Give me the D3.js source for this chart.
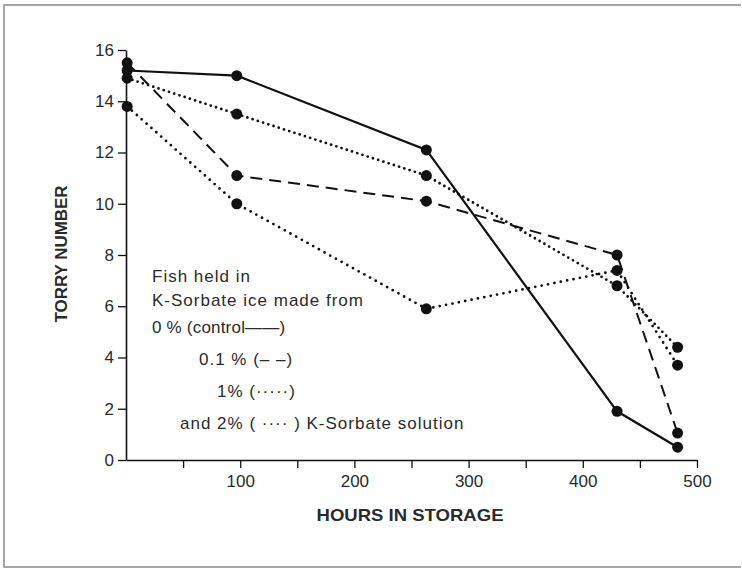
<!DOCTYPE html>
<html>
<head>
<meta charset="utf-8">
<script src="https://cdn.jsdelivr.net/npm/d3@7"></script>
<style>
  body { margin: 0; background: #fff; }
  text { font-family: "Liberation Sans", Arial, sans-serif; fill: #2a2a2a; }
</style>
</head>
<body>
<div id="graph"></div>
<script>
// data
const hours = [1, 97, 263, 430, 483];
const control = [15.2, 15.0, 12.1, 1.9, 0.5];
const pct01 = [15.5, 11.1, 10.1, 8.0, 1.05];
const pct1 = [14.9, 13.5, 11.1, 6.8, 4.4];
const pct2 = [13.8, 10.0, 5.9, 7.4, 3.7];
const xTicks = [100, 200, 300, 400, 500];
const xMinor = [50, 150, 250, 350, 450];
const yTicks = [0, 2, 4, 6, 8, 10, 12, 14, 16];

const series = [
  { name: "control", values: control, dash: null, width: 2.2, cap: "butt" },
  { name: "0.1", values: pct01, dash: "12,7", width: 2, cap: "butt" },
  { name: "1", values: pct1, dash: "0,5.5", width: 2.8, cap: "round" },
  { name: "2", values: pct2, dash: "0,6.5", width: 2.8, cap: "round" }
];

const svgWidth = 742, svgHeight = 569;
const svg = d3.select("#graph").append("svg")
  .attr("width", svgWidth).attr("height", svgHeight);

// frame
svg.append("path")
  .attr("d", "M741,5 H4 V567 H741")
  .attr("fill", "none").attr("stroke", "#888").attr("stroke-width", 1.5);

const x = d3.scaleLinear().domain([0, 500]).range([126, 697]);
const y = d3.scaleLinear().domain([0, 16]).range([460, 50]);

// x axis
const gx = svg.append("g").attr("transform", "translate(0,460)");
gx.call(d3.axisBottom(x).tickValues(xTicks).tickSize(8).tickSizeOuter(0).tickPadding(7));
gx.append("g").call(d3.axisBottom(x).tickValues(xMinor).tickSize(8).tickFormat(""))
  .select(".domain").remove();
gx.selectAll(".domain").attr("stroke", "#111").attr("stroke-width", 1.6);
gx.selectAll(".tick line").attr("stroke", "#111").attr("stroke-width", 1.3);
gx.selectAll(".tick text").style("font-size", "17px").attr("fill", "#2a2a2a")
  .style("font-family", "Liberation Sans, Arial, sans-serif");

// y axis
const gy = svg.append("g").attr("transform", "translate(126,0)");
gy.call(d3.axisLeft(y).tickValues(yTicks).tickSize(8).tickSizeOuter(0).tickPadding(4));
gy.selectAll(".domain").attr("stroke", "#111").attr("stroke-width", 1.6);
gy.selectAll(".tick line").attr("stroke", "#111").attr("stroke-width", 1.3);
gy.selectAll(".tick text").style("font-size", "17px").attr("fill", "#2a2a2a")
  .style("font-family", "Liberation Sans, Arial, sans-serif");

// axis titles
svg.append("text")
  .attr("x", 410).attr("y", 521).attr("text-anchor", "middle")
  .attr("textLength", 187).attr("lengthAdjust", "spacingAndGlyphs")
  .style("font-size", "17px").style("font-weight", "bold")
  .text("HOURS IN STORAGE");
svg.append("text")
  .attr("transform", "translate(67,254) rotate(-90)").attr("text-anchor", "middle")
  .attr("textLength", 137).attr("lengthAdjust", "spacingAndGlyphs")
  .style("font-size", "17px").style("font-weight", "bold")
  .text("TORRY NUMBER");

// lines
const line = d3.line().x((d, i) => x(hours[i])).y(d => y(d));
series.forEach(s => {
  svg.append("path")
    .datum(s.values)
    .attr("fill", "none")
    .attr("stroke", "#111")
    .attr("stroke-width", s.width)
    .attr("stroke-linecap", s.cap)
    .attr("stroke-dasharray", s.dash)
    .attr("d", line);
});
series.forEach(s => {
  svg.selectAll(null)
    .data(s.values)
    .enter()
    .append("circle")
    .attr("cx", (d, i) => x(hours[i]))
    .attr("cy", d => y(d))
    .attr("r", 5.5)
    .attr("fill", "#111");
});

// legend
const legend = [
  { t: "Fish held in", x: 152, y: 282 },
  { t: "K-Sorbate ice made from", x: 152, y: 306 },
  { t: "0 % (control\u2014\u2014)", x: 152, y: 333 },
  { t: "0.1 % (\u2013 \u2013)", x: 199, y: 365 },
  { t: "1% (\u00b7\u00b7\u00b7\u00b7\u00b7)", x: 217, y: 397 },
  { t: "and 2% ( \u00b7\u00b7\u00b7\u00b7 )  K-Sorbate solution", x: 180, y: 429 }
];
svg.selectAll(".leg")
  .data(legend)
  .enter()
  .append("text")
  .attr("x", d => d.x).attr("y", d => d.y)
  .style("font-size", "17px")
  .style("letter-spacing", d => d.t.startsWith("0 %") ? "0.2px" : "1px")
  .text(d => d.t);
</script>
</body>
</html>
